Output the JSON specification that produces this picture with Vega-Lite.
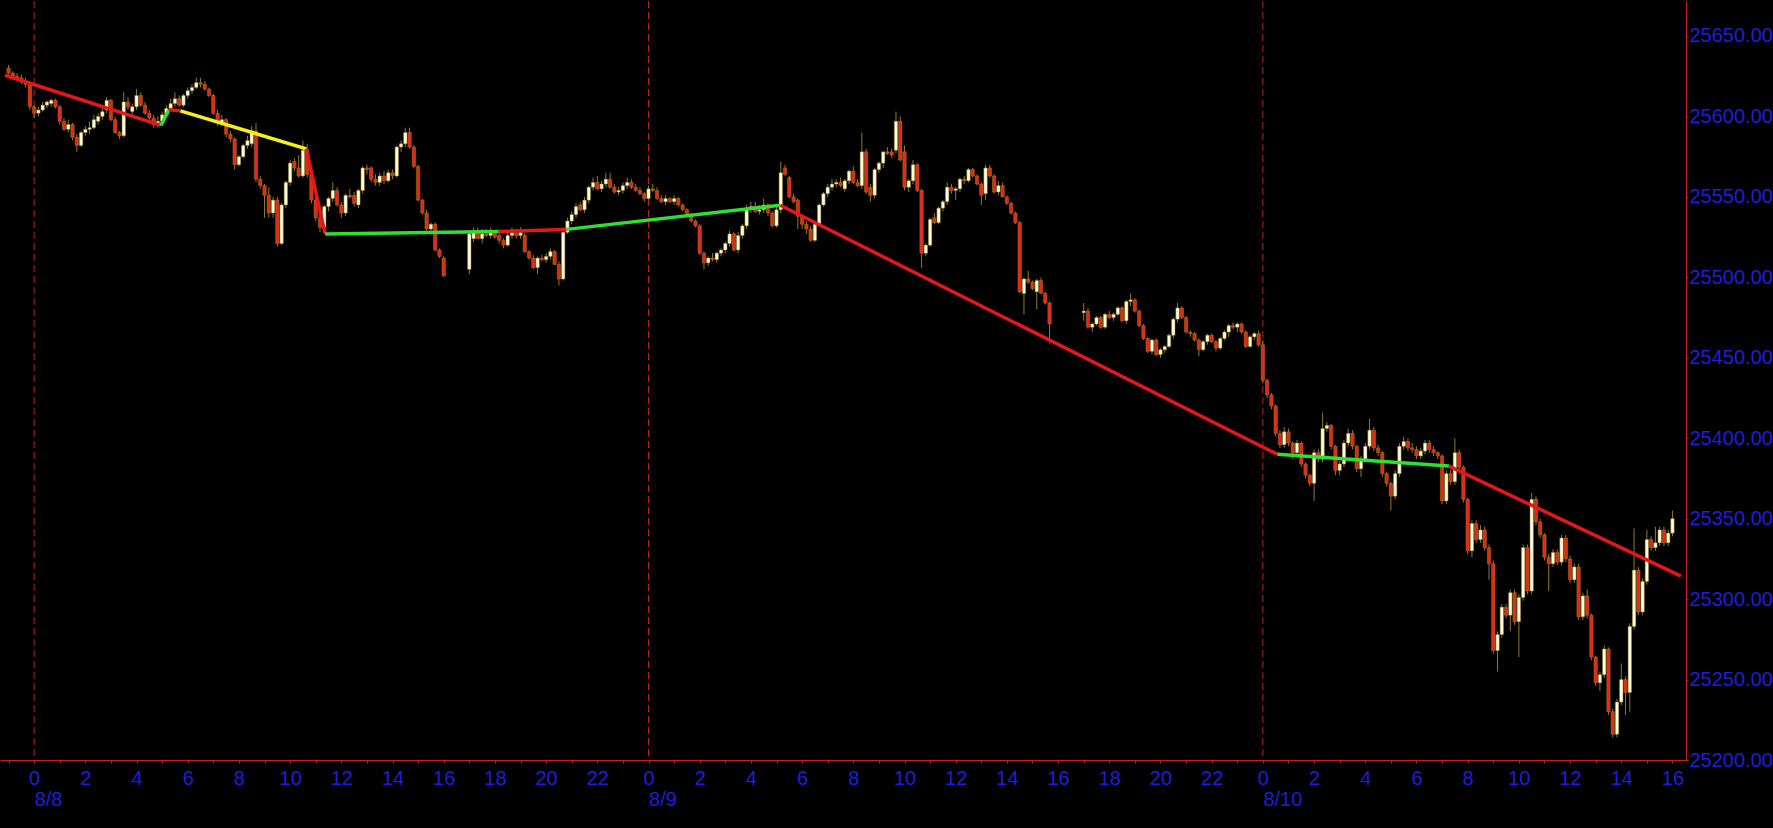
{
  "$schema": "https://vega.github.io/schema/vega-lite/v6.json",
  "width": 1686,
  "height": 759,
  "padding": {"left": 0, "top": 0, "right": 0, "bottom": 19},
  "autosize": {"type": "pad"},
  "background": "#000000",
  "config": {"view": {"stroke": null}, "font": "Liberation Sans"},
  "datasets": {
    "days": [{"m": 0}, {"m": 1440}, {"m": 2880}],
    "trend": [
      {"s": 1, "m": -68.3, "p": 25625.6, "state": "down"}, {"s": 1, "m": 297, "p": 25594.4, "state": "down"},
      {"s": 2, "m": 297, "p": 25594.4, "state": "up"}, {"s": 2, "m": 316, "p": 25604.2, "state": "up"},
      {"s": 3, "m": 316, "p": 25604.2, "state": "down"}, {"s": 3, "m": 343, "p": 25603.5, "state": "down"},
      {"s": 4, "m": 343, "p": 25603.5, "state": "weak"}, {"s": 4, "m": 638, "p": 25579.8, "state": "weak"},
      {"s": 5, "m": 638, "p": 25579.8, "state": "down"}, {"s": 5, "m": 682, "p": 25527, "state": "down"},
      {"s": 6, "m": 682, "p": 25527, "state": "up"}, {"s": 6, "m": 1089, "p": 25528.5, "state": "up"},
      {"s": 7, "m": 1089, "p": 25528.5, "state": "down"}, {"s": 7, "m": 1248, "p": 25529.8, "state": "down"},
      {"s": 8, "m": 1248, "p": 25529.8, "state": "up"}, {"s": 8, "m": 1749, "p": 25544.8, "state": "up"},
      {"s": 9, "m": 1749, "p": 25544.8, "state": "down"}, {"s": 9, "m": 2914, "p": 25390, "state": "down"},
      {"s": 10, "m": 2914, "p": 25390, "state": "up"}, {"s": 10, "m": 3316, "p": 25382.7, "state": "up"},
      {"s": 11, "m": 3316, "p": 25382.7, "state": "down"}, {"s": 11, "m": 3860, "p": 25314.3, "state": "down"}
    ],
    "bars": [
      {"m":-60,"o":25630,"h":25632,"l":25626,"c":25627},
      {"m":-50,"o":25627,"h":25628,"l":25623,"c":25625},
      {"m":-40,"o":25625,"h":25627,"l":25622,"c":25624},
      {"m":-30,"o":25624,"h":25626,"l":25620,"c":25622},
      {"m":-20,"o":25622,"h":25624,"l":25618,"c":25620},
      {"m":-10,"o":25620,"h":25622,"l":25604,"c":25606},
      {"m":0,"o":25606,"h":25607,"l":25599,"c":25602},
      {"m":10,"o":25602,"h":25606,"l":25600,"c":25604},
      {"m":20,"o":25604,"h":25609,"l":25603,"c":25607},
      {"m":30,"o":25607,"h":25610,"l":25605,"c":25609},
      {"m":40,"o":25608,"h":25611,"l":25606,"c":25610},
      {"m":50,"o":25610,"h":25611,"l":25605,"c":25606},
      {"m":60,"o":25606,"h":25607,"l":25595,"c":25597},
      {"m":70,"o":25597,"h":25599,"l":25591,"c":25592},
      {"m":80,"o":25592,"h":25598,"l":25590,"c":25595},
      {"m":90,"o":25595,"h":25596,"l":25585,"c":25587},
      {"m":100,"o":25587,"h":25589,"l":25578,"c":25582},
      {"m":110,"o":25582,"h":25591,"l":25581,"c":25590},
      {"m":120,"o":25590,"h":25594,"l":25588,"c":25592},
      {"m":130,"o":25592,"h":25597,"l":25589,"c":25593},
      {"m":140,"o":25593,"h":25601,"l":25592,"c":25598},
      {"m":150,"o":25597,"h":25602,"l":25595,"c":25600},
      {"m":160,"o":25600,"h":25605,"l":25598,"c":25603},
      {"m":170,"o":25604,"h":25612,"l":25602,"c":25610},
      {"m":180,"o":25610,"h":25611,"l":25597,"c":25598},
      {"m":190,"o":25598,"h":25600,"l":25589,"c":25590},
      {"m":200,"o":25590,"h":25591,"l":25586,"c":25588},
      {"m":210,"o":25588,"h":25615,"l":25587,"c":25609},
      {"m":220,"o":25609,"h":25612,"l":25604,"c":25606},
      {"m":230,"o":25603,"h":25608,"l":25601,"c":25606},
      {"m":240,"o":25606,"h":25617,"l":25604,"c":25613},
      {"m":250,"o":25613,"h":25615,"l":25606,"c":25607},
      {"m":260,"o":25607,"h":25609,"l":25601,"c":25602},
      {"m":270,"o":25602,"h":25604,"l":25598,"c":25599},
      {"m":280,"o":25599,"h":25601,"l":25593,"c":25595},
      {"m":290,"o":25595,"h":25600,"l":25593,"c":25597},
      {"m":300,"o":25597,"h":25603,"l":25596,"c":25601},
      {"m":310,"o":25601,"h":25607,"l":25599,"c":25605},
      {"m":320,"o":25605,"h":25611,"l":25604,"c":25608},
      {"m":330,"o":25608,"h":25615,"l":25606,"c":25611},
      {"m":340,"o":25611,"h":25613,"l":25606,"c":25607},
      {"m":350,"o":25607,"h":25614,"l":25606,"c":25613},
      {"m":360,"o":25613,"h":25618,"l":25611,"c":25616},
      {"m":370,"o":25616,"h":25620,"l":25614,"c":25618},
      {"m":380,"o":25618,"h":25624,"l":25617,"c":25621},
      {"m":390,"o":25621,"h":25624,"l":25618,"c":25620},
      {"m":400,"o":25620,"h":25622,"l":25616,"c":25617},
      {"m":410,"o":25617,"h":25618,"l":25612,"c":25613},
      {"m":420,"o":25613,"h":25614,"l":25601,"c":25602},
      {"m":430,"o":25602,"h":25604,"l":25594,"c":25596},
      {"m":440,"o":25596,"h":25601,"l":25594,"c":25598},
      {"m":450,"o":25598,"h":25599,"l":25587,"c":25589},
      {"m":460,"o":25589,"h":25591,"l":25584,"c":25586},
      {"m":470,"o":25586,"h":25587,"l":25567,"c":25570},
      {"m":480,"o":25570,"h":25576,"l":25569,"c":25575},
      {"m":490,"o":25575,"h":25583,"l":25574,"c":25582},
      {"m":500,"o":25582,"h":25588,"l":25580,"c":25585},
      {"m":510,"o":25583,"h":25594,"l":25581,"c":25591},
      {"m":520,"o":25591,"h":25596,"l":25559,"c":25561},
      {"m":530,"o":25561,"h":25563,"l":25555,"c":25557},
      {"m":540,"o":25557,"h":25558,"l":25537,"c":25551},
      {"m":550,"o":25551,"h":25556,"l":25537,"c":25540},
      {"m":560,"o":25540,"h":25550,"l":25537,"c":25548},
      {"m":570,"o":25548,"h":25550,"l":25519,"c":25521},
      {"m":580,"o":25521,"h":25546,"l":25520,"c":25545},
      {"m":590,"o":25545,"h":25560,"l":25543,"c":25559},
      {"m":600,"o":25559,"h":25573,"l":25557,"c":25571},
      {"m":610,"o":25572,"h":25574,"l":25566,"c":25568},
      {"m":620,"o":25568,"h":25576,"l":25562,"c":25563},
      {"m":630,"o":25563,"h":25585,"l":25562,"c":25579},
      {"m":640,"o":25579,"h":25583,"l":25562,"c":25564},
      {"m":650,"o":25564,"h":25566,"l":25546,"c":25548},
      {"m":660,"o":25548,"h":25550,"l":25535,"c":25537},
      {"m":670,"o":25537,"h":25540,"l":25528,"c":25531},
      {"m":680,"o":25531,"h":25545,"l":25529,"c":25544},
      {"m":690,"o":25544,"h":25550,"l":25541,"c":25549},
      {"m":700,"o":25549,"h":25559,"l":25547,"c":25554},
      {"m":710,"o":25554,"h":25556,"l":25544,"c":25545},
      {"m":720,"o":25545,"h":25547,"l":25537,"c":25540},
      {"m":730,"o":25540,"h":25552,"l":25538,"c":25551},
      {"m":740,"o":25551,"h":25555,"l":25549,"c":25550},
      {"m":750,"o":25551,"h":25553,"l":25544,"c":25546},
      {"m":760,"o":25545,"h":25555,"l":25543,"c":25554},
      {"m":770,"o":25554,"h":25569,"l":25552,"c":25568},
      {"m":780,"o":25568,"h":25570,"l":25564,"c":25567},
      {"m":790,"o":25568,"h":25569,"l":25559,"c":25561},
      {"m":800,"o":25561,"h":25564,"l":25557,"c":25559},
      {"m":810,"o":25559,"h":25565,"l":25557,"c":25563},
      {"m":820,"o":25563,"h":25566,"l":25558,"c":25560},
      {"m":830,"o":25560,"h":25567,"l":25559,"c":25565},
      {"m":840,"o":25565,"h":25567,"l":25561,"c":25563},
      {"m":850,"o":25563,"h":25582,"l":25562,"c":25581},
      {"m":860,"o":25581,"h":25585,"l":25578,"c":25583},
      {"m":870,"o":25583,"h":25593,"l":25581,"c":25590},
      {"m":880,"o":25590,"h":25593,"l":25580,"c":25581},
      {"m":890,"o":25581,"h":25582,"l":25568,"c":25569},
      {"m":900,"o":25569,"h":25570,"l":25547,"c":25548},
      {"m":910,"o":25548,"h":25549,"l":25539,"c":25540},
      {"m":920,"o":25540,"h":25542,"l":25529,"c":25530},
      {"m":930,"o":25530,"h":25534,"l":25528,"c":25533},
      {"m":940,"o":25533,"h":25534,"l":25516,"c":25517},
      {"m":950,"o":25517,"h":25518,"l":25512,"c":25513},
      {"m":960,"o":25512,"h":25513,"l":25500,"c":25501},
      {"m":1020,"o":25505,"h":25528,"l":25502,"c":25527},
      {"m":1030,"o":25524,"h":25531,"l":25522,"c":25528},
      {"m":1040,"o":25528,"h":25531,"l":25524,"c":25524},
      {"m":1050,"o":25524,"h":25530,"l":25521,"c":25527},
      {"m":1060,"o":25527,"h":25530,"l":25525,"c":25526},
      {"m":1070,"o":25526,"h":25531,"l":25524,"c":25528},
      {"m":1080,"o":25528,"h":25529,"l":25524,"c":25525},
      {"m":1090,"o":25526,"h":25528,"l":25521,"c":25523},
      {"m":1100,"o":25523,"h":25524,"l":25518,"c":25520},
      {"m":1110,"o":25520,"h":25529,"l":25519,"c":25526},
      {"m":1120,"o":25526,"h":25531,"l":25524,"c":25528},
      {"m":1130,"o":25528,"h":25530,"l":25524,"c":25526},
      {"m":1140,"o":25526,"h":25531,"l":25524,"c":25528},
      {"m":1150,"o":25526,"h":25528,"l":25515,"c":25516},
      {"m":1160,"o":25516,"h":25517,"l":25511,"c":25512},
      {"m":1170,"o":25512,"h":25514,"l":25505,"c":25506},
      {"m":1180,"o":25506,"h":25513,"l":25502,"c":25512},
      {"m":1190,"o":25512,"h":25514,"l":25510,"c":25511},
      {"m":1200,"o":25511,"h":25515,"l":25509,"c":25513},
      {"m":1210,"o":25513,"h":25518,"l":25511,"c":25516},
      {"m":1220,"o":25516,"h":25517,"l":25508,"c":25508},
      {"m":1230,"o":25508,"h":25510,"l":25495,"c":25499},
      {"m":1240,"o":25499,"h":25531,"l":25498,"c":25528},
      {"m":1250,"o":25528,"h":25537,"l":25527,"c":25535},
      {"m":1260,"o":25535,"h":25541,"l":25533,"c":25539},
      {"m":1270,"o":25539,"h":25546,"l":25537,"c":25544},
      {"m":1280,"o":25545,"h":25547,"l":25541,"c":25542},
      {"m":1290,"o":25542,"h":25550,"l":25540,"c":25548},
      {"m":1300,"o":25548,"h":25557,"l":25546,"c":25556},
      {"m":1310,"o":25556,"h":25562,"l":25554,"c":25559},
      {"m":1320,"o":25559,"h":25563,"l":25554,"c":25555},
      {"m":1330,"o":25555,"h":25560,"l":25553,"c":25558},
      {"m":1340,"o":25558,"h":25565,"l":25556,"c":25561},
      {"m":1350,"o":25561,"h":25565,"l":25555,"c":25556},
      {"m":1360,"o":25556,"h":25558,"l":25552,"c":25553},
      {"m":1370,"o":25553,"h":25556,"l":25551,"c":25554},
      {"m":1380,"o":25554,"h":25559,"l":25552,"c":25557},
      {"m":1390,"o":25557,"h":25562,"l":25555,"c":25559},
      {"m":1400,"o":25559,"h":25561,"l":25555,"c":25556},
      {"m":1410,"o":25556,"h":25558,"l":25553,"c":25554},
      {"m":1420,"o":25554,"h":25556,"l":25551,"c":25552},
      {"m":1430,"o":25552,"h":25553,"l":25547,"c":25549},
      {"m":1440,"o":25549,"h":25557,"l":25548,"c":25555},
      {"m":1450,"o":25555,"h":25558,"l":25553,"c":25554},
      {"m":1460,"o":25554,"h":25556,"l":25548,"c":25549},
      {"m":1470,"o":25549,"h":25551,"l":25546,"c":25547},
      {"m":1480,"o":25547,"h":25551,"l":25545,"c":25549},
      {"m":1490,"o":25549,"h":25550,"l":25546,"c":25547},
      {"m":1500,"o":25547,"h":25551,"l":25545,"c":25549},
      {"m":1510,"o":25549,"h":25550,"l":25544,"c":25545},
      {"m":1520,"o":25545,"h":25546,"l":25541,"c":25542},
      {"m":1530,"o":25542,"h":25543,"l":25538,"c":25539},
      {"m":1540,"o":25539,"h":25540,"l":25534,"c":25535},
      {"m":1550,"o":25535,"h":25536,"l":25531,"c":25532},
      {"m":1560,"o":25532,"h":25533,"l":25514,"c":25515},
      {"m":1570,"o":25515,"h":25516,"l":25505,"c":25509},
      {"m":1580,"o":25509,"h":25513,"l":25507,"c":25512},
      {"m":1590,"o":25512,"h":25515,"l":25510,"c":25511},
      {"m":1600,"o":25511,"h":25516,"l":25509,"c":25515},
      {"m":1610,"o":25515,"h":25518,"l":25513,"c":25517},
      {"m":1620,"o":25517,"h":25522,"l":25515,"c":25521},
      {"m":1630,"o":25521,"h":25529,"l":25519,"c":25527},
      {"m":1640,"o":25527,"h":25528,"l":25516,"c":25517},
      {"m":1650,"o":25517,"h":25528,"l":25515,"c":25526},
      {"m":1660,"o":25526,"h":25533,"l":25524,"c":25532},
      {"m":1670,"o":25532,"h":25545,"l":25530,"c":25543},
      {"m":1680,"o":25543,"h":25547,"l":25540,"c":25544},
      {"m":1690,"o":25544,"h":25547,"l":25540,"c":25541},
      {"m":1700,"o":25541,"h":25545,"l":25539,"c":25542},
      {"m":1710,"o":25542,"h":25549,"l":25540,"c":25545},
      {"m":1720,"o":25545,"h":25546,"l":25538,"c":25540},
      {"m":1730,"o":25540,"h":25541,"l":25531,"c":25532},
      {"m":1740,"o":25532,"h":25544,"l":25531,"c":25542},
      {"m":1750,"o":25542,"h":25572,"l":25540,"c":25565},
      {"m":1760,"o":25568,"h":25570,"l":25563,"c":25564},
      {"m":1770,"o":25562,"h":25563,"l":25549,"c":25550},
      {"m":1780,"o":25550,"h":25552,"l":25546,"c":25547},
      {"m":1790,"o":25548,"h":25549,"l":25530,"c":25538},
      {"m":1800,"o":25538,"h":25539,"l":25530,"c":25533},
      {"m":1810,"o":25533,"h":25535,"l":25527,"c":25530},
      {"m":1820,"o":25530,"h":25532,"l":25522,"c":25523},
      {"m":1830,"o":25523,"h":25535,"l":25522,"c":25533},
      {"m":1840,"o":25533,"h":25546,"l":25532,"c":25545},
      {"m":1850,"o":25545,"h":25553,"l":25544,"c":25552},
      {"m":1860,"o":25552,"h":25558,"l":25550,"c":25556},
      {"m":1870,"o":25556,"h":25561,"l":25554,"c":25558},
      {"m":1880,"o":25558,"h":25561,"l":25556,"c":25559},
      {"m":1890,"o":25559,"h":25562,"l":25556,"c":25557},
      {"m":1900,"o":25555,"h":25561,"l":25553,"c":25560},
      {"m":1910,"o":25560,"h":25567,"l":25558,"c":25566},
      {"m":1920,"o":25566,"h":25569,"l":25558,"c":25559},
      {"m":1930,"o":25559,"h":25561,"l":25556,"c":25557},
      {"m":1940,"o":25557,"h":25590,"l":25555,"c":25578},
      {"m":1950,"o":25578,"h":25580,"l":25552,"c":25553},
      {"m":1960,"o":25556,"h":25558,"l":25547,"c":25551},
      {"m":1970,"o":25551,"h":25568,"l":25549,"c":25567},
      {"m":1980,"o":25567,"h":25572,"l":25565,"c":25571},
      {"m":1990,"o":25571,"h":25578,"l":25568,"c":25578},
      {"m":2000,"o":25578,"h":25581,"l":25576,"c":25577},
      {"m":2010,"o":25578,"h":25580,"l":25574,"c":25576},
      {"m":2020,"o":25579,"h":25603,"l":25577,"c":25597},
      {"m":2030,"o":25597,"h":25600,"l":25572,"c":25573},
      {"m":2040,"o":25578,"h":25582,"l":25554,"c":25556},
      {"m":2050,"o":25556,"h":25561,"l":25553,"c":25560},
      {"m":2060,"o":25560,"h":25573,"l":25558,"c":25570},
      {"m":2070,"o":25570,"h":25571,"l":25553,"c":25554},
      {"m":2080,"o":25554,"h":25555,"l":25506,"c":25515},
      {"m":2090,"o":25515,"h":25521,"l":25513,"c":25520},
      {"m":2100,"o":25520,"h":25537,"l":25519,"c":25536},
      {"m":2110,"o":25537,"h":25540,"l":25533,"c":25534},
      {"m":2120,"o":25534,"h":25544,"l":25533,"c":25543},
      {"m":2130,"o":25543,"h":25548,"l":25541,"c":25547},
      {"m":2140,"o":25547,"h":25559,"l":25545,"c":25556},
      {"m":2150,"o":25556,"h":25558,"l":25552,"c":25554},
      {"m":2160,"o":25554,"h":25556,"l":25548,"c":25555},
      {"m":2170,"o":25555,"h":25562,"l":25553,"c":25561},
      {"m":2180,"o":25561,"h":25563,"l":25558,"c":25560},
      {"m":2190,"o":25560,"h":25568,"l":25559,"c":25567},
      {"m":2200,"o":25567,"h":25568,"l":25562,"c":25563},
      {"m":2210,"o":25563,"h":25564,"l":25557,"c":25558},
      {"m":2220,"o":25558,"h":25559,"l":25545,"c":25551},
      {"m":2230,"o":25552,"h":25570,"l":25548,"c":25568},
      {"m":2240,"o":25568,"h":25570,"l":25562,"c":25563},
      {"m":2250,"o":25563,"h":25564,"l":25552,"c":25553},
      {"m":2260,"o":25553,"h":25560,"l":25551,"c":25557},
      {"m":2270,"o":25557,"h":25559,"l":25550,"c":25550},
      {"m":2280,"o":25550,"h":25551,"l":25545,"c":25546},
      {"m":2290,"o":25546,"h":25547,"l":25539,"c":25540},
      {"m":2300,"o":25540,"h":25541,"l":25533,"c":25534},
      {"m":2310,"o":25534,"h":25535,"l":25490,"c":25491},
      {"m":2320,"o":25490,"h":25500,"l":25477,"c":25499},
      {"m":2330,"o":25499,"h":25504,"l":25496,"c":25497},
      {"m":2340,"o":25497,"h":25498,"l":25492,"c":25493},
      {"m":2350,"o":25491,"h":25499,"l":25480,"c":25498},
      {"m":2360,"o":25498,"h":25500,"l":25490,"c":25490},
      {"m":2370,"o":25490,"h":25491,"l":25483,"c":25484},
      {"m":2380,"o":25484,"h":25485,"l":25459,"c":25471},
      {"m":2460,"o":25478,"h":25484,"l":25473,"c":25479},
      {"m":2470,"o":25479,"h":25481,"l":25468,"c":25469},
      {"m":2480,"o":25469,"h":25472,"l":25466,"c":25471},
      {"m":2490,"o":25471,"h":25476,"l":25470,"c":25475},
      {"m":2500,"o":25475,"h":25476,"l":25468,"c":25469},
      {"m":2510,"o":25469,"h":25478,"l":25468,"c":25477},
      {"m":2520,"o":25477,"h":25479,"l":25474,"c":25475},
      {"m":2530,"o":25475,"h":25478,"l":25473,"c":25477},
      {"m":2540,"o":25477,"h":25482,"l":25476,"c":25481},
      {"m":2550,"o":25481,"h":25482,"l":25472,"c":25473},
      {"m":2560,"o":25473,"h":25486,"l":25471,"c":25485},
      {"m":2570,"o":25485,"h":25490,"l":25482,"c":25486},
      {"m":2580,"o":25486,"h":25487,"l":25478,"c":25479},
      {"m":2590,"o":25479,"h":25480,"l":25469,"c":25470},
      {"m":2600,"o":25470,"h":25471,"l":25461,"c":25462},
      {"m":2610,"o":25462,"h":25463,"l":25453,"c":25454},
      {"m":2620,"o":25454,"h":25462,"l":25452,"c":25461},
      {"m":2630,"o":25461,"h":25462,"l":25451,"c":25452},
      {"m":2640,"o":25452,"h":25456,"l":25450,"c":25455},
      {"m":2650,"o":25455,"h":25458,"l":25453,"c":25457},
      {"m":2660,"o":25457,"h":25465,"l":25456,"c":25464},
      {"m":2670,"o":25464,"h":25475,"l":25462,"c":25474},
      {"m":2680,"o":25474,"h":25484,"l":25472,"c":25481},
      {"m":2690,"o":25481,"h":25482,"l":25474,"c":25475},
      {"m":2700,"o":25475,"h":25476,"l":25465,"c":25466},
      {"m":2710,"o":25466,"h":25467,"l":25463,"c":25465},
      {"m":2720,"o":25465,"h":25466,"l":25460,"c":25461},
      {"m":2730,"o":25461,"h":25462,"l":25451,"c":25455},
      {"m":2740,"o":25455,"h":25461,"l":25454,"c":25460},
      {"m":2750,"o":25460,"h":25465,"l":25458,"c":25464},
      {"m":2760,"o":25464,"h":25465,"l":25459,"c":25460},
      {"m":2770,"o":25460,"h":25461,"l":25454,"c":25456},
      {"m":2780,"o":25456,"h":25463,"l":25455,"c":25462},
      {"m":2790,"o":25462,"h":25467,"l":25461,"c":25466},
      {"m":2800,"o":25466,"h":25471,"l":25463,"c":25470},
      {"m":2810,"o":25470,"h":25472,"l":25468,"c":25469},
      {"m":2820,"o":25469,"h":25472,"l":25466,"c":25471},
      {"m":2830,"o":25471,"h":25472,"l":25465,"c":25466},
      {"m":2840,"o":25466,"h":25467,"l":25456,"c":25457},
      {"m":2850,"o":25457,"h":25464,"l":25456,"c":25463},
      {"m":2860,"o":25463,"h":25466,"l":25461,"c":25465},
      {"m":2870,"o":25465,"h":25467,"l":25457,"c":25458},
      {"m":2880,"o":25458,"h":25461,"l":25434,"c":25436},
      {"m":2890,"o":25436,"h":25437,"l":25425,"c":25427},
      {"m":2900,"o":25427,"h":25428,"l":25418,"c":25420},
      {"m":2910,"o":25420,"h":25421,"l":25401,"c":25403},
      {"m":2920,"o":25403,"h":25405,"l":25394,"c":25396},
      {"m":2930,"o":25396,"h":25407,"l":25394,"c":25404},
      {"m":2940,"o":25404,"h":25406,"l":25395,"c":25397},
      {"m":2950,"o":25397,"h":25398,"l":25387,"c":25391},
      {"m":2960,"o":25391,"h":25399,"l":25389,"c":25397},
      {"m":2970,"o":25397,"h":25398,"l":25382,"c":25384},
      {"m":2980,"o":25384,"h":25385,"l":25375,"c":25377},
      {"m":2990,"o":25377,"h":25378,"l":25370,"c":25372},
      {"m":3000,"o":25372,"h":25393,"l":25361,"c":25391},
      {"m":3010,"o":25391,"h":25393,"l":25385,"c":25387},
      {"m":3020,"o":25387,"h":25416,"l":25385,"c":25406},
      {"m":3030,"o":25406,"h":25410,"l":25404,"c":25408},
      {"m":3040,"o":25408,"h":25409,"l":25393,"c":25395},
      {"m":3050,"o":25395,"h":25396,"l":25377,"c":25380},
      {"m":3060,"o":25380,"h":25386,"l":25377,"c":25384},
      {"m":3070,"o":25384,"h":25399,"l":25382,"c":25397},
      {"m":3080,"o":25397,"h":25406,"l":25395,"c":25403},
      {"m":3090,"o":25403,"h":25405,"l":25393,"c":25395},
      {"m":3100,"o":25395,"h":25396,"l":25379,"c":25381},
      {"m":3110,"o":25381,"h":25389,"l":25376,"c":25387},
      {"m":3120,"o":25387,"h":25397,"l":25385,"c":25395},
      {"m":3130,"o":25395,"h":25412,"l":25393,"c":25405},
      {"m":3140,"o":25405,"h":25407,"l":25392,"c":25394},
      {"m":3150,"o":25394,"h":25396,"l":25389,"c":25391},
      {"m":3160,"o":25391,"h":25392,"l":25376,"c":25378},
      {"m":3170,"o":25378,"h":25379,"l":25370,"c":25372},
      {"m":3180,"o":25372,"h":25373,"l":25355,"c":25364},
      {"m":3190,"o":25364,"h":25380,"l":25362,"c":25378},
      {"m":3200,"o":25378,"h":25397,"l":25376,"c":25395},
      {"m":3210,"o":25395,"h":25401,"l":25393,"c":25398},
      {"m":3220,"o":25398,"h":25400,"l":25392,"c":25394},
      {"m":3230,"o":25394,"h":25397,"l":25391,"c":25393},
      {"m":3240,"o":25393,"h":25395,"l":25387,"c":25389},
      {"m":3250,"o":25389,"h":25394,"l":25387,"c":25392},
      {"m":3260,"o":25392,"h":25399,"l":25390,"c":25397},
      {"m":3270,"o":25397,"h":25399,"l":25391,"c":25393},
      {"m":3280,"o":25393,"h":25395,"l":25389,"c":25391},
      {"m":3290,"o":25391,"h":25392,"l":25387,"c":25389},
      {"m":3300,"o":25389,"h":25390,"l":25359,"c":25361},
      {"m":3310,"o":25361,"h":25380,"l":25359,"c":25378},
      {"m":3320,"o":25378,"h":25380,"l":25371,"c":25373},
      {"m":3330,"o":25373,"h":25400,"l":25371,"c":25391},
      {"m":3340,"o":25391,"h":25393,"l":25380,"c":25382},
      {"m":3350,"o":25382,"h":25383,"l":25360,"c":25362},
      {"m":3360,"o":25362,"h":25363,"l":25328,"c":25330},
      {"m":3370,"o":25330,"h":25349,"l":25326,"c":25347},
      {"m":3380,"o":25347,"h":25349,"l":25335,"c":25337},
      {"m":3390,"o":25337,"h":25346,"l":25335,"c":25343},
      {"m":3400,"o":25343,"h":25345,"l":25330,"c":25332},
      {"m":3410,"o":25332,"h":25334,"l":25312,"c":25322},
      {"m":3420,"o":25322,"h":25324,"l":25266,"c":25268},
      {"m":3430,"o":25268,"h":25280,"l":25255,"c":25278},
      {"m":3440,"o":25278,"h":25297,"l":25276,"c":25295},
      {"m":3450,"o":25295,"h":25297,"l":25288,"c":25290},
      {"m":3460,"o":25290,"h":25306,"l":25280,"c":25304},
      {"m":3470,"o":25304,"h":25306,"l":25284,"c":25286},
      {"m":3480,"o":25286,"h":25303,"l":25264,"c":25301},
      {"m":3490,"o":25301,"h":25334,"l":25299,"c":25332},
      {"m":3500,"o":25332,"h":25334,"l":25303,"c":25305},
      {"m":3510,"o":25305,"h":25366,"l":25303,"c":25362},
      {"m":3520,"o":25362,"h":25364,"l":25346,"c":25348},
      {"m":3530,"o":25348,"h":25350,"l":25338,"c":25340},
      {"m":3540,"o":25340,"h":25341,"l":25324,"c":25326},
      {"m":3550,"o":25326,"h":25328,"l":25305,"c":25322},
      {"m":3560,"o":25322,"h":25331,"l":25320,"c":25329},
      {"m":3570,"o":25329,"h":25331,"l":25321,"c":25323},
      {"m":3580,"o":25323,"h":25340,"l":25321,"c":25338},
      {"m":3590,"o":25338,"h":25340,"l":25323,"c":25325},
      {"m":3600,"o":25325,"h":25327,"l":25310,"c":25312},
      {"m":3610,"o":25312,"h":25322,"l":25310,"c":25320},
      {"m":3620,"o":25320,"h":25322,"l":25287,"c":25289},
      {"m":3630,"o":25289,"h":25304,"l":25287,"c":25302},
      {"m":3640,"o":25302,"h":25306,"l":25288,"c":25290},
      {"m":3650,"o":25290,"h":25291,"l":25262,"c":25264},
      {"m":3660,"o":25264,"h":25265,"l":25246,"c":25248},
      {"m":3670,"o":25248,"h":25255,"l":25243,"c":25253},
      {"m":3680,"o":25253,"h":25271,"l":25251,"c":25269},
      {"m":3690,"o":25269,"h":25270,"l":25228,"c":25230},
      {"m":3700,"o":25230,"h":25232,"l":25214,"c":25216},
      {"m":3710,"o":25216,"h":25238,"l":25214,"c":25236},
      {"m":3720,"o":25236,"h":25260,"l":25234,"c":25250},
      {"m":3730,"o":25250,"h":25252,"l":25228,"c":25242},
      {"m":3740,"o":25242,"h":25285,"l":25230,"c":25283},
      {"m":3750,"o":25283,"h":25344,"l":25281,"c":25318},
      {"m":3760,"o":25318,"h":25320,"l":25290,"c":25292},
      {"m":3770,"o":25292,"h":25313,"l":25290,"c":25311},
      {"m":3780,"o":25311,"h":25343,"l":25309,"c":25337},
      {"m":3790,"o":25337,"h":25339,"l":25330,"c":25332},
      {"m":3800,"o":25332,"h":25345,"l":25330,"c":25335},
      {"m":3810,"o":25335,"h":25345,"l":25333,"c":25343},
      {"m":3820,"o":25343,"h":25345,"l":25333,"c":25335},
      {"m":3830,"o":25335,"h":25343,"l":25333,"c":25341},
      {"m":3840,"o":25341,"h":25355,"l":25339,"c":25350}
    ]
  },
  "layer": [
    {
      "data": {"name": "days"},
      "mark": {"type": "rule", "color": "#BC2020", "strokeWidth": 1, "strokeDash": [7, 4]},
      "encoding": {
        "x": {
          "field": "m",
          "type": "quantitative",
          "scale": {"domain": [-68.3, 3860], "nice": false, "zero": false},
          "axis": {
            "orient": "bottom",
            "values": [0, 1440, 2880],
            "labelExpr": "datum.value == 0 ? '8/8' : datum.value == 1440 ? '8/9' : '8/10'",
            "labelAlign": "left",
            "labelPadding": 29,
            "ticks": false,
            "tickSize": 0,
            "domain": false,
            "grid": false,
            "title": null,
            "labelColor": "#1E1EDC",
            "labelFontSize": 20,
            "labelFont": "Liberation Sans",
            "labelFlush": false,
            "labelOverlap": false,
            "labelBound": false
          }
        }
      }
    },
    {
      "data": {"name": "bars"},
      "mark": {"type": "rule", "color": "#8C7B34", "strokeWidth": 1},
      "encoding": {
        "x": {
          "field": "m",
          "type": "quantitative",
          "axis": {
            "orient": "bottom",
            "values": [-60,0,60,120,180,240,300,360,420,480,540,600,660,720,780,840,900,960,1020,1080,1140,1200,1260,1320,1380,1440,1500,1560,1620,1680,1740,1800,1860,1920,1980,2040,2100,2160,2220,2280,2340,2400,2460,2520,2580,2640,2700,2760,2820,2880,2940,3000,3060,3120,3180,3240,3300,3360,3420,3480,3540,3600,3660,3720,3780,3840],
            "labelExpr": "((datum.value / 60) % 24 + 24) % 24 % 2 == 0 ? '' + (((datum.value / 60) % 24 + 24) % 24) : ''",
            "grid": false,
            "domainColor": "#C81E1E",
            "tickColor": "#C81E1E",
            "tickSize": 3,
            "labelPadding": 5,
            "labelColor": "#1E1EDC",
            "labelFontSize": 20,
            "labelFont": "Liberation Sans",
            "title": null,
            "labelFlush": false,
            "labelOverlap": false,
            "labelBound": false
          }
        },
        "y": {
          "field": "l",
          "type": "quantitative",
          "title": null,
          "scale": {"domain": [25200, 25671.75], "nice": false, "zero": false},
          "axis": {
            "orient": "right",
            "values": [25200, 25250, 25300, 25350, 25400, 25450, 25500, 25550, 25600, 25650],
            "format": ".2f",
            "grid": false,
            "domainColor": "#C81E1E",
            "tickColor": "#C81E1E",
            "tickSize": 2,
            "labelPadding": 1,
            "labelColor": "#1E1EDC",
            "labelFontSize": 20,
            "labelFont": "Liberation Sans",
            "title": null,
            "labelFlush": false,
            "labelOverlap": false,
            "labelBound": false
          }
        },
        "y2": {"field": "h"}
      }
    },
    {
      "data": {"name": "bars"},
      "mark": {"type": "bar", "size": 3.4, "stroke": "#9C7A22", "strokeWidth": 0.5},
      "encoding": {
        "x": {"field": "m", "type": "quantitative", "axis": null},
        "y": {"field": "o", "type": "quantitative", "title": null},
        "y2": {"field": "c"},
        "fill": {
          "condition": {"test": "datum.c >= datum.o", "value": "#FFFDDC"},
          "value": "#E02A18"
        }
      }
    },
    {
      "data": {"name": "trend"},
      "mark": {"type": "line", "strokeWidth": 3.5, "clip": true},
      "encoding": {
        "x": {"field": "m", "type": "quantitative", "axis": null},
        "y": {"field": "p", "type": "quantitative", "title": null},
        "detail": {"field": "s", "type": "nominal"},
        "color": {
          "field": "state",
          "type": "nominal",
          "scale": {"domain": ["down", "up", "weak"], "range": ["#E41818", "#30E030", "#F4F020"]},
          "legend": null
        }
      }
    }
  ],
  "resolve": {"axis": {"x": "independent"}}
}
